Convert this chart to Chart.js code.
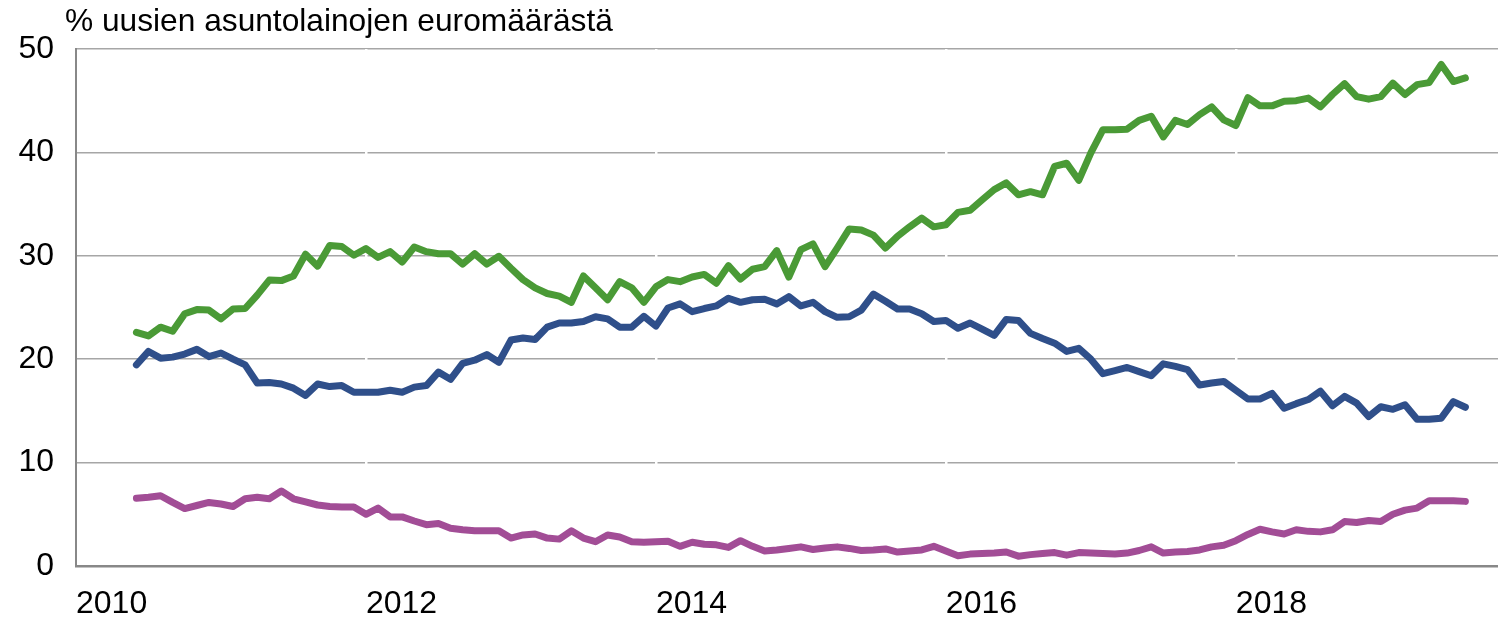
<!DOCTYPE html>
<html>
<head>
<meta charset="utf-8">
<script src="https://cdn.jsdelivr.net/npm/chart.js@4/dist/chart.umd.min.js"></script>
<style>
  html, body { margin: 0; padding: 0; background: #fff; }
  #wrap { width: 1498px; height: 617px; }
</style>
</head>
<body>
<div id="wrap"><canvas id="chart" width="1498" height="617"></canvas></div>
<script>
// months from 2010-06 to 2019-08
const firstYear = 2010, firstMonth = 6, monthCount = 111;
const months = [];
for (let i = 0; i < monthCount; i++) {
    let m = firstMonth - 1 + i;
    months.push(`${firstYear + Math.floor(m / 12)}-${String(m % 12 + 1).padStart(2, '0')}`);
}

const yearTicks = [2010, 2012, 2014, 2016, 2018];
const yTicks = [0, 10, 20, 30, 40, 50];
const yTitle = '% uusien asuntolainojen euromäärästä';

// green
const greenValues = [
    22.6, 22.25, 23.1, 22.7, 24.4, 24.8, 24.75, 23.9, 24.85, 24.9,
    26.2, 27.65, 27.6, 28.05, 30.15, 29.0, 31.0, 30.9, 30.05, 30.7,
    29.85, 30.4, 29.4, 30.85, 30.4, 30.2, 30.2, 29.2, 30.2, 29.2,
    29.95, 28.8, 27.7, 26.9, 26.35, 26.1, 25.5, 28.05, 26.9, 25.75,
    27.5, 26.9, 25.5, 27.0, 27.7, 27.5, 27.95, 28.2, 27.35, 29.05,
    27.75, 28.7, 28.95, 30.5, 27.95, 30.6, 31.15, 28.95, 30.75, 32.6,
    32.5, 32.0, 30.75, 31.9, 32.8, 33.65, 32.8, 33.0, 34.2, 34.4,
    35.4, 36.4, 37.05, 35.9, 36.2, 35.9, 38.65, 38.95, 37.3, 39.95,
    42.2, 42.2, 42.25, 43.1, 43.5, 41.5, 43.1, 42.7, 43.65, 44.4,
    43.15, 42.6, 45.3, 44.5, 44.5, 44.95, 45.0, 45.25, 44.4, 45.6,
    46.65, 45.4, 45.15, 45.4, 46.7, 45.6, 46.55, 46.75, 48.5, 46.85,
    47.2
];

// blue
const blueValues = [
    19.45, 20.75, 20.1, 20.2, 20.5, 20.95, 20.25, 20.6, 20.0, 19.45,
    17.7, 17.75, 17.6, 17.2, 16.5, 17.6, 17.35, 17.45, 16.8, 16.8,
    16.8, 17.0, 16.8, 17.3, 17.45, 18.75, 18.05, 19.6, 19.9, 20.45,
    19.7, 21.85, 22.05, 21.9, 23.1, 23.5, 23.5, 23.65, 24.1, 23.9,
    23.1, 23.1, 24.15, 23.2, 24.95, 25.35, 24.6, 24.9, 25.15, 25.9,
    25.5, 25.75, 25.8, 25.35, 26.05, 25.15, 25.5, 24.6, 24.05, 24.1,
    24.75, 26.3, 25.6, 24.85, 24.85, 24.4, 23.65, 23.75, 23.0, 23.5,
    22.9, 22.3, 23.85, 23.75, 22.5, 22.0, 21.55, 20.75, 21.05, 20.0,
    18.6, 18.9, 19.2, 18.8, 18.4, 19.55, 19.3, 19.0, 17.5, 17.7,
    17.85, 17.0, 16.15, 16.15, 16.7, 15.25, 15.7, 16.1, 16.9, 15.5,
    16.4, 15.75, 14.45, 15.4, 15.15, 15.6, 14.2, 14.2, 14.3, 15.9,
    15.35
];

// purple
const purpleValues = [
    6.55, 6.65, 6.8, 6.15, 5.55, 5.85, 6.15, 6.0, 5.75, 6.5,
    6.65, 6.5, 7.25, 6.5, 6.2, 5.9, 5.75, 5.7, 5.7, 5.0,
    5.6, 4.75, 4.75, 4.35, 4.0, 4.1, 3.65, 3.5, 3.4, 3.4,
    3.4, 2.7, 3.0, 3.1, 2.7, 2.6, 3.4, 2.7, 2.35, 3.0,
    2.8, 2.35, 2.3, 2.35, 2.4, 1.9, 2.3, 2.1, 2.05, 1.8,
    2.45, 1.9, 1.45, 1.55, 1.7, 1.85, 1.6, 1.75, 1.85, 1.7,
    1.5, 1.55, 1.65, 1.35, 1.45, 1.55, 1.9, 1.45, 1.0, 1.15,
    1.2, 1.25, 1.35, 0.95, 1.1, 1.2, 1.3, 1.05, 1.3, 1.25,
    1.2, 1.15, 1.25, 1.5, 1.85, 1.25, 1.35, 1.4, 1.55, 1.85,
    2.0, 2.45, 3.05, 3.55, 3.3, 3.1, 3.5, 3.35, 3.3, 3.5,
    4.3, 4.2, 4.4, 4.3, 5.0, 5.4, 5.6, 6.3, 6.3, 6.3,
    6.25
];

// month index counted from Jan 2010
const monthIndex = label => {
    let parts = label.split('-');
    return (parseInt(parts[0]) - 2010) * 12 + parseInt(parts[1]) - 1;
};

const toPoints = values => values.map((v, i) => ({ x: monthIndex(months[i]), y: v }));

const font = { family: "'Liberation Sans', Arial, sans-serif", size: 32 };

const titlePlugin = {
    id: 'yTitle',
    afterDraw(chart) {
        const ctx = chart.ctx;
        ctx.save();
        ctx.font = "31.7px 'Liberation Sans', Arial, sans-serif";
        ctx.fillStyle = '#000';
        ctx.textBaseline = 'alphabetic';
        ctx.textAlign = 'left';
        ctx.fillText(yTitle, 65, 31);
        ctx.restore();
    }
};

const lineStyle = color => ({
    borderColor: color,
    backgroundColor: color,
    borderWidth: 7,
    pointRadius: 0,
    tension: 0,
    borderCapStyle: 'round',
    borderJoinStyle: 'round',
    fill: false
});

const context = document.getElementById('chart').getContext('2d');
const chart = new Chart(context, {
    type: 'line',
    data: {
        datasets: [
            { label: 'purple', data: toPoints(purpleValues), ...lineStyle('#a24d96') },
            { label: 'blue', data: toPoints(blueValues), ...lineStyle('#2f4f8a') },
            { label: 'green', data: toPoints(greenValues), ...lineStyle('#4a9a36') }
        ]
    },
    options: {
        responsive: false,
        animation: false,
        layout: { padding: { top: 49, right: 0, left: 0, bottom: 0 } },
        plugins: {
            legend: { display: false },
            tooltip: { enabled: false }
        },
        scales: {
            y: {
                min: 0,
                max: 50,
                afterFit: scale => { scale.width = 76; },
                afterBuildTicks: scale => { scale.ticks = yTicks.map(v => ({ value: v })); },
                ticks: { font: font, color: '#000', padding: 22 },
                grid: { color: '#a6a6a6', lineWidth: 1.5, drawTicks: false, z: -2 },
                border: { display: true, color: '#888', width: 2 }
            },
            x: {
                type: 'linear',
                min: 0,
                max: 117.7,
                afterFit: scale => { scale.height = 51; },
                afterBuildTicks: scale => {
                    scale.ticks = yearTicks.map(y => ({ value: (y - 2010) * 12 }));
                },
                ticks: {
                    font: font,
                    color: '#000',
                    align: 'start',
                    padding: 19,
                    maxRotation: 0,
                    autoSkip: false,
                    callback: value => String(2010 + value / 12)
                },
                grid: {
                    color: ctx => (ctx.tick && ctx.tick.value === 0) ? 'rgba(0,0,0,0)' : '#fff',
                    lineWidth: 2.5,
                    drawTicks: false,
                    z: -1
                },
                border: { display: true, color: '#888', width: 2.5 }
            }
        }
    },
    plugins: [titlePlugin]
});
</script>
</body>
</html>
